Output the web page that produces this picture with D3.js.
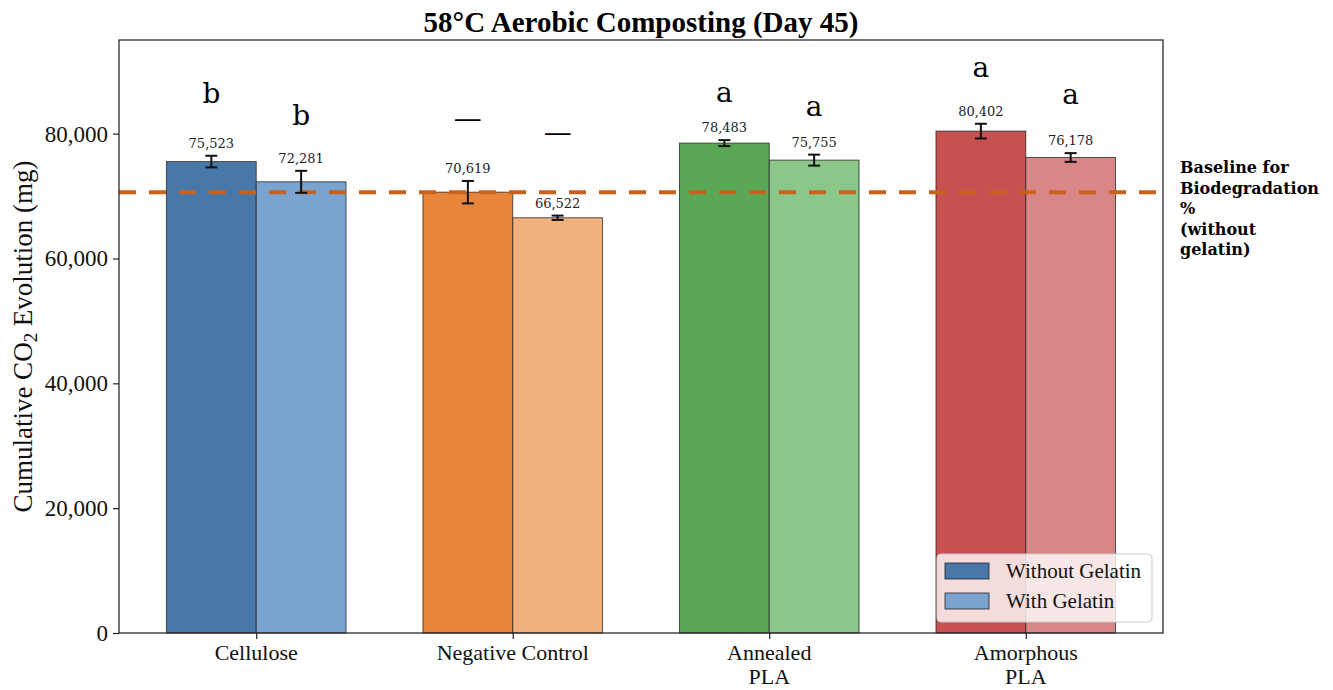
<!DOCTYPE html>
<html>
<head>
<meta charset="utf-8">
<script src="https://cdn.jsdelivr.net/npm/d3@7"></script>
<style>
  body { margin: 0; background: #fff; }
  svg { display: block; }
</style>
</head>
<body>
<svg id="chart" width="1333" height="690"></svg>
<script>
(function () {

// values
var categories = ["Cellulose", "Negative Control", "Annealed\nPLA", "Amorphous\nPLA"];
var withoutGelatin = [75523, 70619, 78483, 80402];
var withGelatin = [72281, 66522, 75755, 76178];
var errWithout = [930, 1800, 480, 1180];
var errWith = [1760, 350, 880, 700];
var lettersWithout = ["b", "\u2014", "a", "a"];
var lettersWith = ["b", "\u2014", "a", "a"];
var letterYWithout = [84970, 80900, 85130, 89140];
var letterYWith = [81440, 78600, 82890, 84810];
var colorsWithout = ["#4878a8", "#e8853a", "#5aa755", "#c65151"];
var colorsWith = ["#7aa4cf", "#f2b07c", "#8cc78a", "#d98686"];
var seriesNames = ["Without Gelatin", "With Gelatin"];
var yTicks = [0, 20000, 40000, 60000, 80000];
var baselineValue = 70619;
var baselineText = ["Baseline for", "Biodegradation", "%", "(without", "gelatin)"];
var yMax = 95000;

var left = 119, right = 1163, top = 40, bottom = 633;
var barW = 0.35;
var serif = "'Liberation Serif', 'Times New Roman', serif";
var dejavu = "'DejaVu Serif', serif";
var fmt = d3.format(",");

var svg = d3.select("#chart");

var x = d3.scaleLinear().domain([-0.535, 3.535]).range([left, right]);
var y = d3.scaleLinear().domain([0, yMax]).range([bottom, top]);

// one record per bar
var bars = [];
categories.forEach(function (c, i) {
	bars.push({ i: i, s: 0, v: withoutGelatin[i], e: errWithout[i], color: colorsWithout[i],
		letter: lettersWithout[i], ly: letterYWithout[i], x0: i - barW });
	bars.push({ i: i, s: 1, v: withGelatin[i], e: errWith[i], color: colorsWith[i],
		letter: lettersWith[i], ly: letterYWith[i], x0: i });
});

svg.append("g").attr("class", "bars").selectAll("rect")
	.data(bars).enter().append("rect")
	.attr("x", function (d) { return x(d.x0); })
	.attr("width", function (d) { return x(d.x0 + barW) - x(d.x0); })
	.attr("y", function (d) { return y(d.v); })
	.attr("height", function (d) { return y(0) - y(d.v); })
	.attr("fill", function (d) { return d.color; })
	.attr("stroke", "#222")
	.attr("stroke-opacity", 0.75)
	.attr("stroke-width", 1);

// baseline dashed line
svg.append("line")
	.attr("x1", left).attr("x2", right)
	.attr("y1", y(baselineValue)).attr("y2", y(baselineValue))
	.attr("stroke", "#c9611c")
	.attr("stroke-width", 4)
	.attr("stroke-dasharray", "17,13");

// error bars
var err = svg.append("g").attr("class", "errors").selectAll("g")
	.data(bars).enter().append("g")
	.attr("stroke", "#111")
	.attr("stroke-width", 2);
err.append("line")
	.attr("x1", function (d) { return x(d.x0 + barW / 2); })
	.attr("x2", function (d) { return x(d.x0 + barW / 2); })
	.attr("y1", function (d) { return y(d.v - d.e); })
	.attr("y2", function (d) { return y(d.v + d.e); });
[-1, 1].forEach(function (sgn) {
	err.append("line")
		.attr("x1", function (d) { return x(d.x0 + barW / 2) - 6; })
		.attr("x2", function (d) { return x(d.x0 + barW / 2) + 6; })
		.attr("y1", function (d) { return y(d.v + sgn * d.e); })
		.attr("y2", function (d) { return y(d.v + sgn * d.e); });
});

// value labels
svg.append("g").selectAll("text")
	.data(bars).enter().append("text")
	.attr("x", function (d) { return x(d.x0 + barW / 2); })
	.attr("y", function (d) { return y(d.v + d.e) - 8; })
	.attr("text-anchor", "middle")
	.attr("font-family", dejavu)
	.attr("font-size", 13)
	.attr("fill", "#222")
	.text(function (d) { return fmt(d.v); });

// significance letters
svg.append("g").selectAll("text")
	.data(bars).enter().append("text")
	.attr("x", function (d) { return x(d.x0 + barW / 2); })
	.attr("y", function (d) { return y(d.ly); })
	.attr("text-anchor", "middle")
	.attr("font-family", dejavu)
	.attr("font-size", 28)
	.attr("fill", "#000")
	.text(function (d) { return d.letter; });

// axes
var yAxis = svg.append("g")
	.attr("transform", "translate(" + left + ",0)")
	.call(d3.axisLeft(y).tickValues(yTicks).tickFormat(fmt).tickSize(6).tickPadding(5));
yAxis.select(".domain").remove();
yAxis.selectAll("text").attr("font-family", serif).attr("font-size", 23).attr("fill", "#111");
yAxis.selectAll("line").attr("stroke", "#222").attr("stroke-width", 1.2);

var xAxis = svg.append("g")
	.attr("transform", "translate(0," + bottom + ")")
	.call(d3.axisBottom(x).tickValues(d3.range(categories.length)).tickSize(6).tickFormat(""));
xAxis.select(".domain").remove();
xAxis.selectAll("line").attr("stroke", "#222").attr("stroke-width", 1.2);

var xLabels = svg.append("g").selectAll("text")
	.data(categories).enter().append("text")
	.attr("x", function (d, i) { return x(i); })
	.attr("y", 660)
	.attr("text-anchor", "middle")
	.attr("font-family", serif)
	.attr("font-size", 22)
	.attr("fill", "#111");
xLabels.each(function (d, i) {
	var t = d3.select(this);
	d.split("\n").forEach(function (line, k) {
		t.append("tspan").attr("x", x(i)).attr("dy", k === 0 ? 0 : 24).text(line);
	});
});

// frame
svg.append("rect")
	.attr("x", left).attr("y", top)
	.attr("width", right - left).attr("height", bottom - top)
	.attr("fill", "none")
	.attr("stroke", "#222")
	.attr("stroke-width", 1.25);

// title
svg.append("text")
	.attr("x", (left + right) / 2)
	.attr("y", 32)
	.attr("text-anchor", "middle")
	.attr("font-family", serif)
	.attr("font-weight", "bold")
	.attr("font-size", 29)
	.text("58\u00b0C Aerobic Composting (Day 45)");

// y label with subscript
var yl = svg.append("text")
	.attr("transform", "translate(32," + ((top + bottom) / 2) + ") rotate(-90)")
	.attr("text-anchor", "middle")
	.attr("font-family", serif)
	.attr("font-size", 27)
	.attr("fill", "#111");
yl.append("tspan").text("Cumulative CO");
yl.append("tspan").attr("font-size", 19).attr("dy", 5).text("2");
yl.append("tspan").attr("dy", -5).text(" Evolution (mg)");

// baseline annotation, outside the frame
svg.append("g").selectAll("text")
	.data(baselineText).enter().append("text")
	.attr("x", 1180)
	.attr("y", function (d, k) { return y(baselineValue) - 19 + k * 20.5; })
	.attr("font-family", dejavu)
	.attr("font-weight", "bold")
	.attr("font-size", 16)
	.attr("fill", "#000")
	.text(function (d) { return d; });

// legend
var legend = svg.append("g").attr("transform", "translate(937,554)");
legend.append("rect")
	.attr("width", 215).attr("height", 68)
	.attr("rx", 4)
	.attr("fill", "#fff").attr("fill-opacity", 0.8)
	.attr("stroke", "#ccc");
var items = legend.selectAll("g.item")
	.data(seriesNames).enter().append("g")
	.attr("class", "item")
	.attr("transform", function (d, k) { return "translate(0," + (k * 30) + ")"; });
items.append("rect")
	.attr("x", 8).attr("y", 9)
	.attr("width", 44).attr("height", 16)
	.attr("fill", function (d, k) { return k === 0 ? colorsWithout[0] : colorsWith[0]; })
	.attr("stroke", "#222").attr("stroke-opacity", 0.8);
items.append("text")
	.attr("x", 69).attr("y", 24)
	.attr("font-family", serif)
	.attr("font-size", 21)
	.attr("fill", "#111")
	.text(function (d) { return d; });

})();
</script>
</body>
</html>
